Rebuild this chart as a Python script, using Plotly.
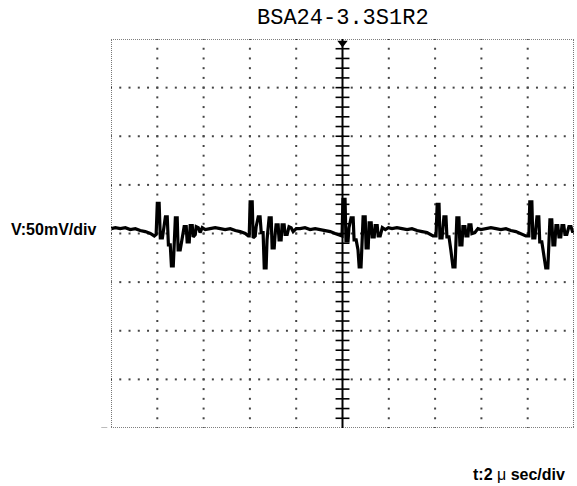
import numpy as np
import plotly.graph_objects as go

title_text = "BSA24-3.3S1R2"
volt_label = "V:50mV/div"
time_label = "t:2 \u03bc sec/div"

# time in microseconds, voltage in millivolts
base0_t = [0.01, 0.19, 0.40, 0.62, 0.83, 1.05, 1.26, 1.48, 1.70, 1.87]
base0_v = [5, 6, 5, 6, 4, 5, 3, 2, 0, -2.5]

burst1_t = [1.95, 2.00, 2.08, 2.13, 2.22, 2.26, 2.35, 2.43, 2.48, 2.56, 2.61, 2.69, 2.74, 2.78, 2.86, 2.90,
            2.99, 3.08, 3.16, 3.25, 3.29, 3.38, 3.42, 3.51, 3.55, 3.64, 3.68, 3.77, 3.85, 3.94, 4.07]
burst1_v = [-1, 31, 31, -4.5, -4.5, 4, 17, 17, -11.7, -11.7, -33.3, -33.3, -1, 16, 16, -16.9,
            -16.9, -1, 7, 7, -8.6, -8.6, 8, 8, -3.5, -1, 7, 6, 1, 6, 4]

base1_t = [4.28, 4.50, 4.72, 4.93, 5.15, 5.37, 5.58, 5.80, 5.93]
base1_v = [5, 6, 5, 4, 5, 3, 2, 0, -2.5]

burst2_t = [5.97, 6.01, 6.10, 6.14, 6.23, 6.27, 6.36, 6.44, 6.49, 6.57, 6.62, 6.70, 6.74, 6.83, 6.92,
            6.96, 7.05, 7.09, 7.13, 7.22, 7.26, 7.35, 7.39, 7.48, 7.52, 7.61, 7.69, 7.78, 7.87, 8.00]
burst2_v = [-2.5, 32.5, 32.5, -4.5, -2.5, 7, 17, 17, 1, 1, -35.4, -35.4, -6.6, 16, 16,
            -14.8, -14.8, -1, 9, 9, -6.6, -6.6, 9, 9, -1, -1, 7, 6, 2, 5]

base2_t = [8.17, 8.38, 8.60, 8.82, 9.03, 9.25, 9.47, 9.68, 9.90]
base2_v = [5, 6, 4, 5, 4, 3, 2, 0, -2.5]

burst3_t = [9.98, 10.02, 10.11, 10.15, 10.24, 10.28, 10.37, 10.46, 10.50, 10.59, 10.67, 10.72, 10.80,
            10.85, 10.89, 10.98, 11.02, 11.11, 11.15, 11.24, 11.28, 11.37, 11.41, 11.50, 11.54, 11.63,
            11.72, 11.85, 11.98]
burst3_v = [-2.5, 35, 35, -7.6, -7.6, 6, 16, 16, -6.6, -6.6, -16.9, -34.4, -34.4,
            -6.6, 17, 17, -14.8, -14.8, 11, 11, -3.5, -3.5, 8, 8, -2.5, -2.5,
            6, 4, 6]

base3_t = [12.14, 12.35, 12.57, 12.79, 13.00, 13.22, 13.44, 13.65, 13.91]
base3_v = [5, 6, 5, 4, 5, 3, 2, 1, -2.5]

burst4_t = [14.04, 14.09, 14.17, 14.21, 14.30, 14.38, 14.47, 14.51, 14.60, 14.68, 14.77, 14.86, 14.90,
            14.94, 15.03, 15.07, 15.16, 15.20, 15.29, 15.33, 15.42, 15.46, 15.55, 15.59, 15.72, 15.85, 15.98]
burst4_v = [-2.5, 30, 30, -4.5, -4.5, 17, 17, -3.5, -3.5, -16.9, -34.4, -34.4, -6.6,
            16, 16, -11.7, -11.7, 7, 7, -2.5, -2.5, 9, 9, 0, 1, 5, 4]

base4_t = [16.19, 16.41, 16.63, 16.84, 17.06, 17.27, 17.49, 17.71, 17.92]
base4_v = [5, 6, 5, 4, 5, 3, 2, 0, -2.5]

burst5_t = [18.05, 18.09, 18.18, 18.22, 18.31, 18.40, 18.48, 18.52, 18.61, 18.65, 18.78, 18.87, 18.91,
            18.96, 19.04, 19.09, 19.17, 19.22, 19.30, 19.35, 19.43, 19.48, 19.56, 19.61, 19.69, 19.78,
            19.87, 19.95, 19.99]
burst5_v = [-2.5, 32.5, 32.5, -4.5, -4.5, 17, 17, -8.6, -8.6, -14.8, -35.4, -35.4, -6.6,
            14, 14, -11.7, -11.7, 8, 8, -3.5, -3.5, 8, 8, -1, -1, 7,
            7, 1, 4]

trace_t = (base0_t + burst1_t + base1_t + burst2_t + base2_t + burst3_t + base3_t
           + burst4_t + base4_t + burst5_t)
trace_v = (base0_v + burst1_v + base1_v + burst2_v + base2_v + burst3_v + base3_v
           + burst4_v + base4_v + burst5_v)

# graticule settings
T_DIV = 2.0     # us per division
V_DIV = 50.0    # mV per division
N_X, N_Y = 10, 8
T_MAX = T_DIV * N_X
V_MAX = V_DIV * N_Y / 2

fig = go.Figure()

# dotted grid (dots every 0.2 division)
gx, gy = [], []
for i in range(1, N_X):
    if i == N_X // 2:
        continue
    for k in range(0, N_Y * 5 + 1):
        gx.append(i * T_DIV)
        gy.append(-V_MAX + k * V_DIV / 5)
for j in range(1, N_Y):
    for k in range(0, N_X * 5 + 1):
        gx.append(k * T_DIV / 5)
        gy.append(-V_MAX + j * V_DIV)
fig.add_trace(go.Scatter(x=gx, y=gy, mode="markers",
                         marker=dict(symbol="square", size=2, color="#444"),
                         hoverinfo="skip", showlegend=False))

# center axis with tick marks
cx = N_X // 2 * T_DIV
tick_x, tick_y = [], []
for k in range(1, N_Y * 5):
    yv = -V_MAX + k * V_DIV / 5
    tick_x += [cx - 0.3, cx + 0.3, None]
    tick_y += [yv, yv, None]
fig.add_trace(go.Scatter(x=tick_x, y=tick_y, mode="lines",
                         line=dict(color="black", width=1.6),
                         hoverinfo="skip", showlegend=False))
fig.add_trace(go.Scatter(x=[cx, cx], y=[-V_MAX, V_MAX], mode="lines",
                         line=dict(color="black", width=2),
                         hoverinfo="skip", showlegend=False))

# signal trace
fig.add_trace(go.Scatter(x=trace_t, y=trace_v, mode="lines",
                         line=dict(color="black", width=3.2),
                         showlegend=False))

# trigger marker
fig.add_trace(go.Scatter(x=[cx], y=[V_MAX - 4], mode="markers",
                         marker=dict(symbol="triangle-down", size=9, color="black"),
                         cliponaxis=False, hoverinfo="skip", showlegend=False))

# dotted border
fig.add_shape(type="rect", xref="x", yref="y", x0=0, x1=T_MAX, y0=-V_MAX, y1=V_MAX,
              line=dict(color="#555", width=1.6, dash="1px,1px"), layer="above")
fig.add_shape(type="line", xref="paper", yref="y", x0=-0.021, x1=-0.008, y0=-V_MAX, y1=-V_MAX,
              line=dict(color="#777", width=1))

fig.update_xaxes(range=[0, T_MAX], visible=False, showgrid=False, zeroline=False)
fig.update_yaxes(range=[-V_MAX, V_MAX], visible=False, showgrid=False, zeroline=False)

fig.add_annotation(text=title_text, xref="paper", yref="paper", x=0.5, y=1, yshift=21,
                   showarrow=False, font=dict(family="Liberation Mono", size=22, color="black"),
                   xanchor="center", yanchor="middle", borderpad=0)
fig.add_annotation(text="<b>" + volt_label + "</b>", xref="paper", yref="y", x=-0.027, y=4,
                   showarrow=False, font=dict(family="Liberation Sans", size=16, color="black"),
                   xanchor="right", yanchor="middle")
fig.add_annotation(text="<b>t:2</b> \u03bc <b>sec/div</b>", xref="paper", yref="paper", x=0.985, y=0,
                   yshift=-46, showarrow=False,
                   font=dict(family="Liberation Sans", size=16, color="black"),
                   xanchor="right", yanchor="middle")

fig.update_layout(width=577, height=486, margin=dict(l=111, r=3, t=39, b=58),
                  paper_bgcolor="white", plot_bgcolor="white")

# remove the default page body margin so the figure fills the window exactly
fig.write_html("out.html", config={"displayModeBar": False},
               post_script="document.body.style.margin='0px';")
